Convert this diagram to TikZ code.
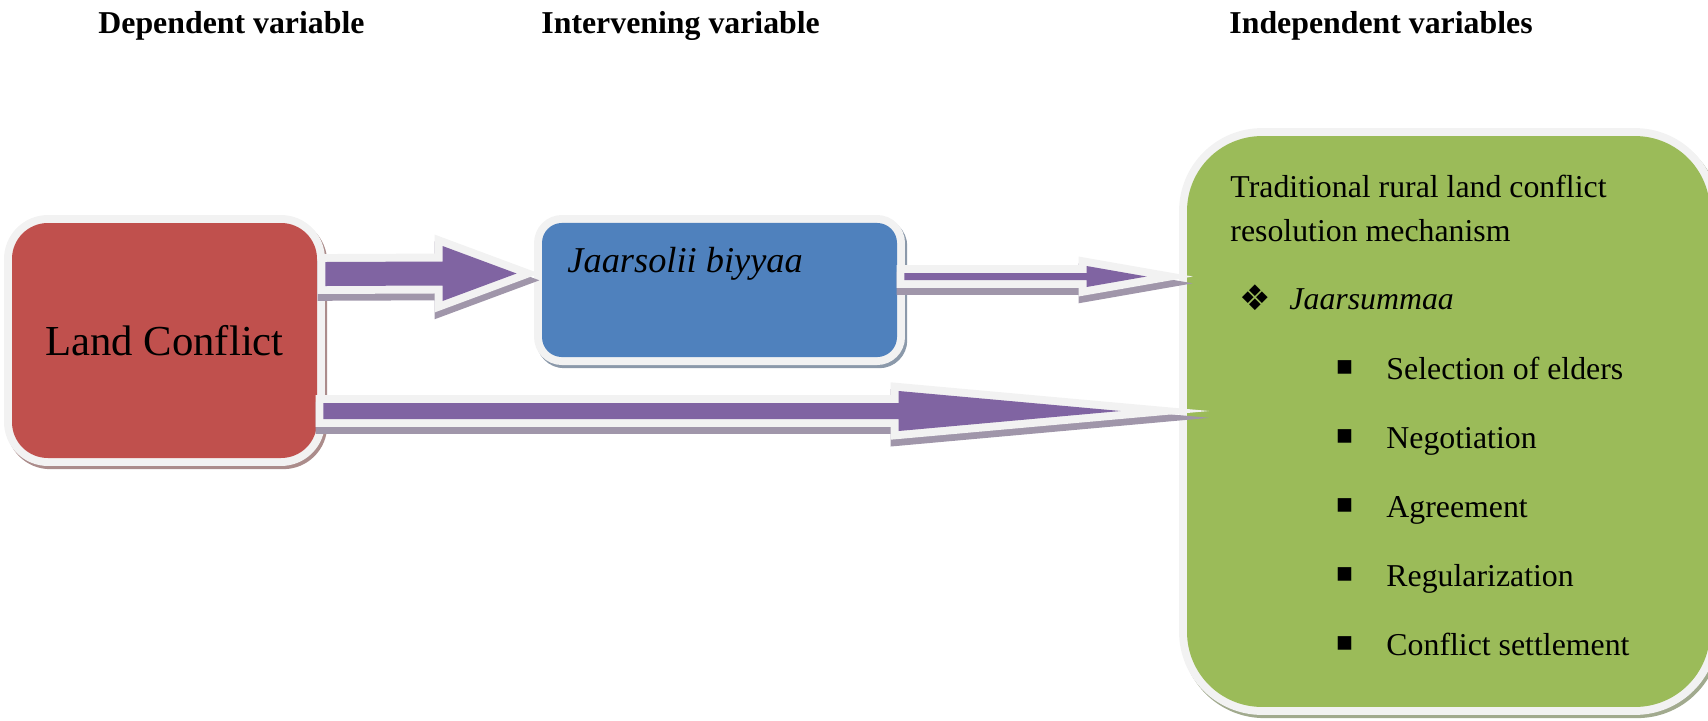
\documentclass[tikz,border=0pt]{standalone}
\usepackage{fontspec}
\setmainfont{Liberation Serif}
\newfontfamily\dingfont{DejaVu Sans}
\usepackage{xcolor}
\usepackage{tikz}
\usetikzlibrary{calc}

\definecolor{boxred}{HTML}{C0504D}
\definecolor{boxblue}{HTML}{4F81BD}
\definecolor{boxgreen}{HTML}{9BBB59}
\definecolor{arrowpurple}{HTML}{8064A2}
\definecolor{rimgrey}{HTML}{F2F2F2}
\definecolor{arrowshade}{HTML}{A096AA}

% block arrow: start, tip, half shaft, half head, head length
\newcommand\blockarrow[5]{%
  \def\arrowpath{($(#1)+(0,#3)$) -- ($(#2)+(-#5,#3)$) -- ($(#2)+(-#5,#4)$) -- (#2)
    -- ($(#2)+(-#5,-#4)$) -- ($(#2)+(-#5,-#3)$) -- ($(#1)+(0,-#3)$) -- cycle}%
  \filldraw[arrowshade,line width=7pt,miter limit=20,transform canvas={yshift=-3pt}] \arrowpath;
  \filldraw[rimgrey,line width=7pt,miter limit=20] \arrowpath;
  \fill[arrowpurple] \arrowpath;
}

\begin{document}
\begin{tikzpicture}[x=0.44pt,y=-0.44pt,
  every node/.style={inner sep=0pt},
  head/.style={anchor=base west,font=\fontsize{14}{17}\selectfont\bfseries},
  body/.style={anchor=base west,font=\fontsize{14}{17}\selectfont},
  panel/.style={fill=#1,
    preaction={fill=#1!35!gray!80!white,draw=#1!35!gray!80!white,line width=7pt,
      transform canvas={xshift=1pt,yshift=-1.4pt}},
    preaction={fill=rimgrey,draw=rimgrey,line width=7pt}},
  dot/.style={font=\dingfont\fontsize{12}{12}\selectfont}]
  \useasboundingbox (0,0) rectangle (1708,720);

  \node[head] (dep) at (98,33) {Dependent variable};
  \node[head] (int) at (541,33) {Intervening variable};
  \node[head] (ind) at (1229,33) {Independent variables};

  \node[panel=boxred,rounded corners=15.8pt,minimum width=134.2pt,minimum height=103.4pt,
    font=\fontsize{18.8}{22}\selectfont] (lc) at (164.5,340.5) {Land Conflict};
  \node[panel=boxblue,rounded corners=8.8pt,minimum width=156.2pt,minimum height=59pt] (jb) at (719.5,290) {};
  \node[panel=boxgreen,rounded corners=33pt,minimum width=230.1pt,minimum height=251.2pt] (gr) at (1448.5,421.5) {};

  \node[anchor=base west,font=\fontsize{16}{19}\selectfont\itshape] (jbtext) at (567,272) {Jaarsolii biyyaa};

  \node[body] (t1) at (1230,197) {Traditional rural land conflict};
  \node[body] (t2) at (1230,241) {resolution mechanism};
  \node[dot,font=\dingfont\fontsize{15.5}{16}\selectfont] (d0) at (1255.5,298) {❖};
  \node[body,font=\fontsize{14}{17}\selectfont\itshape] (js) at (1289,309) {Jaarsummaa};

  \node[dot] (b1) at (1344.5,367.5) {▪};
  \node[body] (i1) at (1386,379) {Selection of elders};
  \node[dot] (b2) at (1344.5,436.5) {▪};
  \node[body] (i2) at (1386,448) {Negotiation};
  \node[dot] (b3) at (1344.5,505.5) {▪};
  \node[body] (i3) at (1386,517) {Agreement};
  \node[dot] (b4) at (1344.5,574.5) {▪};
  \node[body] (i4) at (1386,586) {Regularization};
  \node[dot] (b5) at (1344.5,643.5) {▪};
  \node[body] (i5) at (1386,655) {Conflict settlement};

  \coordinate (a1) at ($(lc.east)+(8,-66.5)$);
  \coordinate (a2) at ($(jb.west)+(-25,-16.5)$);
  \coordinate (c1) at ($(jb.east)+(7,-13.5)$);
  \coordinate (c2) at ($(gr.west)+(-40,-145)$);
  \coordinate (e1) at ($(lc.east)+(6,70.5)$);
  \coordinate (e2) at ($(gr.west)+(-66,-10.5)$);

  \blockarrow{a1}{a2}{12}{27.5}{74}
  \blockarrow{c1}{c2}{3.5}{10.5}{60}
  \blockarrow{e1}{e2}{8}{20}{222}
\end{tikzpicture}
\end{document}
